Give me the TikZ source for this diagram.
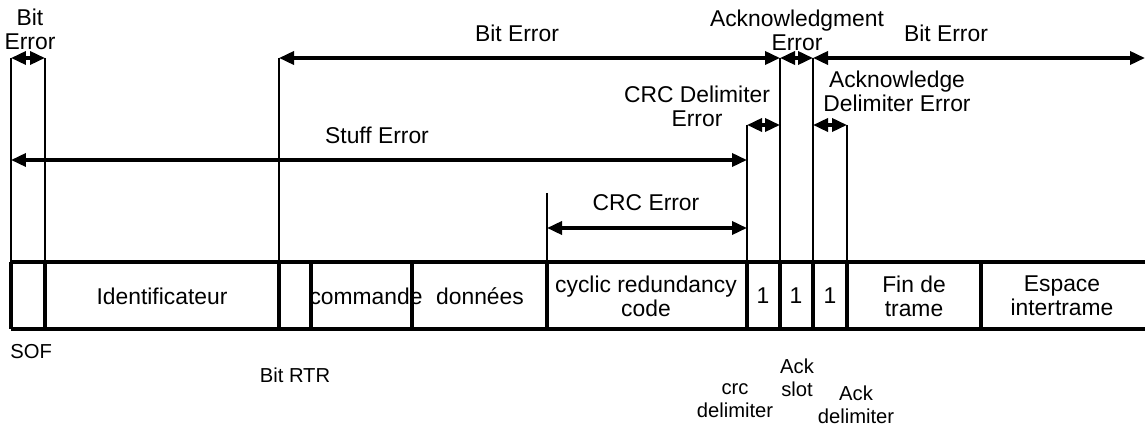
\documentclass[tikz,border=0pt]{standalone}
\usepackage{fontspec}
\setmainfont{Liberation Sans}
\usetikzlibrary{arrows.meta}

\begin{document}
\begin{tikzpicture}[x=0.02cm,y=-0.02cm,
        every node/.style={font=\fontsize{13}{13.5}\selectfont,align=center,inner sep=0pt},
        small/.style={font=\fontsize{11.5}{13.2}\selectfont},
        frame/.style={line width=2.1pt},
        guide/.style={line width=0.9pt},
        span/.style={line width=2pt,{Triangle[length=0.3cm,width=0.26cm]}-{Triangle[length=0.3cm,width=0.26cm]}}]
        \useasboundingbox (0,0) rectangle (1145,428);

        % frame
        \draw[frame] (11,262) -- (1145,262) (11,329) -- (1145,329);
        \foreach \x in {11,45,279,547,747,780,813,981}
            \draw[frame] (\x,262) -- (\x,329);
        \foreach \x in {311,412,847}
            \draw[line width=2.8pt] (\x,262) -- (\x,329);

        \node (id) at (162,296) {Identificateur};
        \node (cmd) at (366,296) {commande};
        \node (data) at (480,296) {données};
        \node (crc) at (646,296) {cyclic redundancy\\code};
        \node (crcd) at (763,296) {1};
        \node (ack) at (796,296) {1};
        \node (ackd) at (830,296) {1};
        \node (eof) at (914,296) {Fin de\\trame};
        \node (ifs) at (1062,296) {Espace\\intertrame};

        \node[small,anchor=west] (sof) at (10,352) {SOF};
        \node[small] (rtr) at (295,375) {Bit RTR};
        \node[small] (slot) at (797,378) {Ack\\slot};
        \node[small] (cdel) at (735,401) {crc\\delimiter};
        \node[small] (adel) at (856,405) {Ack\\delimiter};

        % limits
        \coordinate (b0) at (11,58);
        \coordinate (b1) at (45,58);
        \coordinate (b2) at (279,58);
        \coordinate (b5) at (547,193);
        \coordinate (b6) at (747,125);
        \coordinate (b7) at (780,58);
        \coordinate (b8) at (813,58);
        \coordinate (b9) at (847,125);
        \coordinate (end) at (1145,58);
        \coordinate (s0) at (11,160);
        \coordinate (s6) at (747,160);
        \coordinate (c5) at (547,228);
        \coordinate (c6) at (747,228);
        \coordinate (d7) at (780,125);
        \coordinate (d8) at (813,125);

        \foreach \b in {b0,b1,b2,b5,b6,b7,b8,b9}
            \draw[guide] (\b) -- (\b |- 0,262);

        \draw[span] (b0) -- (b1);
        \draw[span] (b2) -- (b7);
        \draw[span] (b7) -- (b8);
        \draw[span] (b8) -- (end);
        \draw[span] (s0) -- (s6);
        \draw[span] (c5) -- (c6);
        \draw[span] (b6) -- (d7);
        \draw[span] (d8) -- (b9);

        \node (e1) at (30,29) {Bit\\Error};
        \node (e2) at (517,33) {Bit Error};
        \node (e3) at (797,30) {Acknowledgment\\Error};
        \node (e4) at (946,33) {Bit Error};
        \node (e5) at (697,106) {CRC Delimiter\\Error};
        \node (e6) at (897,91) {Acknowledge\\Delimiter Error};
        \node (e7) at (377,135) {Stuff Error};
        \node (e8) at (646,203) {CRC Error};
    \end{tikzpicture}
\end{document}
